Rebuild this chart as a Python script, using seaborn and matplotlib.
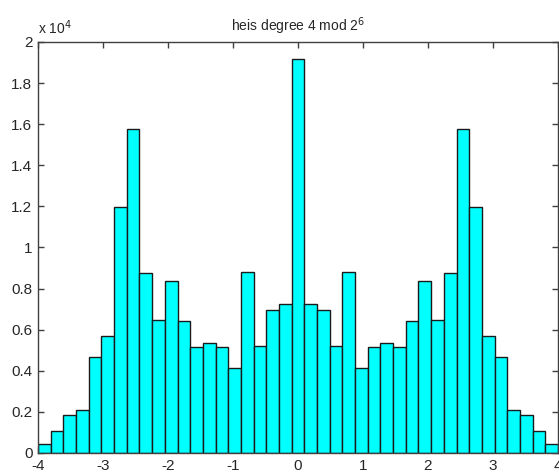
import numpy as np
import pandas as pd
import matplotlib
matplotlib.use("Agg")
import matplotlib.pyplot as plt
import seaborn as sns
from matplotlib.ticker import FuncFormatter

# Histogram: 41 equal-width bins spanning -4..4 (counts in units of 1e4)
left_half = [0.044, 0.109, 0.186, 0.209, 0.468, 0.569, 1.195, 1.577, 0.876, 0.648,
             0.835, 0.640, 0.515, 0.533, 0.515, 0.416, 0.881, 0.522, 0.695, 0.723]
center_value = [1.916]
right_half = [0.723, 0.695, 0.522, 0.883, 0.416, 0.515, 0.533, 0.515, 0.640, 0.835,
              0.648, 0.876, 1.577, 1.195, 0.569, 0.468, 0.209, 0.186, 0.109, 0.044]
counts_e4 = left_half + center_value + right_half
x_min, x_max = -4.0, 4.0
n_bins = len(counts_e4)
title_text = "heis degree 4 mod 2$^{6}$"
x_ticks = [-4, -3, -2, -1, 0, 1, 2, 3, 4]
y_ticks = [0, 0.2, 0.4, 0.6, 0.8, 1.0, 1.2, 1.4, 1.6, 1.8, 2.0]

edges = np.linspace(x_min, x_max, n_bins + 1)
centers = (edges[:-1] + edges[1:]) / 2
df = pd.DataFrame({"x": centers, "count": np.array(counts_e4) * 1e4})

sns.set_style("white")
plt.rcParams['font.family'] = ['Liberation Sans', 'DejaVu Sans']

fig = plt.figure(figsize=(5.59, 4.75), dpi=100)
ax = fig.add_axes([38/559, 22/475, 520/559, 411/475])

sns.histplot(data=df, x="x", weights="count", bins=n_bins, binrange=(x_min, x_max),
             ax=ax, color="#00ffff", edgecolor="#1a1a1a", linewidth=1.0, alpha=1.0)

ax.set_xlim(x_min, x_max)
ax.set_ylim(0, 2e4)
ax.set_xticks(x_ticks)
ax.set_yticks([v * 1e4 for v in y_ticks])
ax.yaxis.set_major_formatter(FuncFormatter(lambda v, p: ("%g" % (v / 1e4))))
ax.xaxis.set_major_formatter(FuncFormatter(lambda v, p: "%g" % v))
ax.set_xlabel("")
ax.set_ylabel("")

spine_col = "#404040"
for s in ax.spines.values():
    s.set_visible(True)
    s.set_color(spine_col)
    s.set_linewidth(1.0)
ax.tick_params(axis="both", direction="in", length=4, width=1, color=spine_col,
               labelsize=11, labelcolor="#262626", top=True, right=True,
               bottom=True, left=True, pad=4)

ax.set_title(title_text, fontsize=10, color="#262626", pad=8)
ax.text(0.0, 1.012, "x 10$^{4}$", transform=ax.transAxes, fontsize=10,
        color="#262626", ha="left", va="bottom")

fig.savefig("out.png", dpi=100, facecolor="white")
